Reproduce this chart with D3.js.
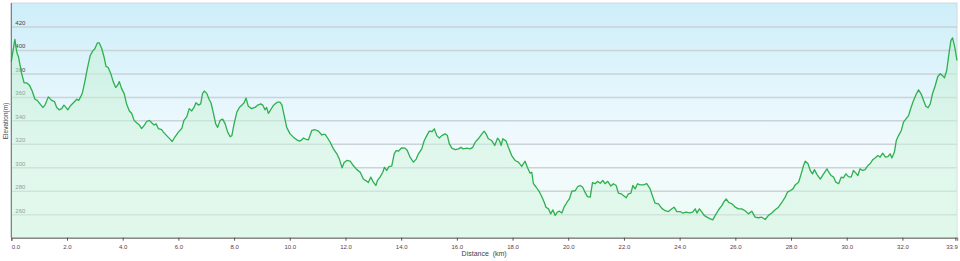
<!DOCTYPE html>
<html>
<head>
<meta charset="utf-8">
<script src="https://cdn.jsdelivr.net/npm/d3@7"></script>
<style>
  body { margin: 0; background: #fff; }
  svg { display: block; }
  .tick text { font-family: "Liberation Sans", Arial, sans-serif; }
</style>
</head>
<body>
<svg id="chart" width="960" height="261"></svg>
<script>
// distance along the track (km)
const distKm = [
  0.00, 0.10, 0.13, 0.17, 0.21, 0.26, 0.29, 0.37, 0.46, 0.55, 0.65, 0.75, 0.85, 0.93, 1.03, 1.13, 1.21, 1.33, 1.45, 1.55,
  1.63, 1.72, 1.81, 1.89, 1.96, 2.03, 2.11, 2.23, 2.35, 2.42, 2.49, 2.56, 2.65, 2.73, 2.83, 2.92, 3.00, 3.09, 3.16, 3.25,
  3.33, 3.40, 3.48, 3.57, 3.66, 3.75, 3.82, 3.88, 3.96, 4.05, 4.14, 4.24, 4.32, 4.41, 4.50, 4.60, 4.68, 4.78, 4.86, 4.96,
  5.04, 5.13, 5.20, 5.28, 5.40, 5.46, 5.58, 5.70, 5.78, 5.88, 6.00, 6.12, 6.20, 6.30, 6.39, 6.48, 6.56, 6.63, 6.72, 6.80,
  6.87, 6.93, 7.02, 7.10, 7.17, 7.26, 7.34, 7.41, 7.50, 7.59, 7.68, 7.77, 7.86, 7.92, 8.00, 8.10, 8.19, 8.28, 8.36, 8.43,
  8.51, 8.63, 8.75, 8.85, 8.96, 9.03, 9.11, 9.17, 9.23, 9.29, 9.39, 9.47, 9.55, 9.65, 9.72, 9.80, 9.89, 10.01, 10.13, 10.25,
  10.35, 10.43, 10.49, 10.59, 10.67, 10.79, 10.91, 11.03, 11.15, 11.20, 11.27, 11.33, 11.45, 11.57, 11.69, 11.78, 11.88, 11.95, 12.05, 12.17,
  12.28, 12.41, 12.53, 12.64, 12.77, 12.82, 12.91, 13.00, 13.09, 13.15, 13.24, 13.34, 13.40, 13.48, 13.57, 13.66, 13.75, 13.82, 13.90, 14.02,
  14.14, 14.22, 14.32, 14.44, 14.54, 14.62, 14.74, 14.83, 14.92, 15.01, 15.11, 15.19, 15.28, 15.37, 15.46, 15.58, 15.66, 15.73, 15.82, 15.94,
  16.06, 16.14, 16.23, 16.36, 16.48, 16.57, 16.66, 16.77, 16.90, 16.98, 17.05, 17.13, 17.25, 17.36, 17.46, 17.53, 17.59, 17.65, 17.77, 17.85,
  17.97, 18.09, 18.21, 18.33, 18.45, 18.53, 18.63, 18.69, 18.75, 18.85, 18.97, 19.06, 19.14, 19.20, 19.29, 19.37, 19.45, 19.53, 19.61, 19.68,
  19.77, 19.85, 19.95, 20.04, 20.13, 20.25, 20.34, 20.43, 20.52, 20.60, 20.69, 20.79, 20.87, 20.97, 21.05, 21.15, 21.24, 21.32, 21.42, 21.53,
  21.62, 21.72, 21.80, 21.90, 21.98, 22.08, 22.16, 22.25, 22.32, 22.40, 22.49, 22.58, 22.70, 22.82, 22.94, 23.04, 23.12, 23.24, 23.36, 23.48,
  23.60, 23.72, 23.80, 23.90, 24.02, 24.11, 24.23, 24.35, 24.47, 24.56, 24.62, 24.71, 24.80, 24.88, 24.98, 25.10, 25.19, 25.28, 25.40, 25.52,
  25.60, 25.67, 25.76, 25.88, 26.00, 26.11, 26.23, 26.35, 26.47, 26.59, 26.71, 26.83, 26.95, 27.07, 27.19, 27.31, 27.43, 27.55, 27.67, 27.79,
  27.87, 27.97, 28.07, 28.15, 28.27, 28.36, 28.45, 28.51, 28.61, 28.69, 28.77, 28.84, 28.93, 29.05, 29.17, 29.29, 29.35, 29.44, 29.53, 29.61,
  29.71, 29.80, 29.88, 29.97, 30.06, 30.16, 30.24, 30.33, 30.40, 30.48, 30.57, 30.66, 30.76, 30.84, 30.93, 31.02, 31.12, 31.20, 31.29, 31.39,
  31.48, 31.56, 31.62, 31.71, 31.78, 31.86, 31.96, 32.04, 32.13, 32.22, 32.31, 32.40, 32.49, 32.58, 32.67, 32.76, 32.84, 32.92, 33.00, 33.08,
  33.18, 33.27, 33.36, 33.43, 33.51, 33.59, 33.67, 33.74, 33.80, 33.88, 33.96
];

// elevation (m)
const elevM = [
  390, 405, 409, 402, 397, 394, 390, 380, 372, 372, 370, 365, 358, 357, 354, 351, 353, 360, 357, 356,
  351, 349, 350, 353, 351, 349, 352, 355, 358, 357, 360, 364, 374, 384, 395, 399, 401, 406, 406, 401,
  394, 386, 385, 380, 373, 368, 370, 373, 367, 363, 354, 348, 346, 340, 338, 336, 333, 336, 339, 340,
  338, 336, 337, 333, 332, 330, 327, 324, 322, 326, 330, 333, 340, 343, 350, 348, 351, 355, 353, 354,
  363, 365, 363, 358, 355, 346, 337, 334, 340, 341, 337, 330, 326, 327, 337, 347, 351, 353, 355, 359,
  352, 350, 351, 353, 354, 353, 349, 351, 346, 348, 352, 354, 355.5, 355.5, 353, 344, 334, 328.5, 325.7, 323.4,
  322.3, 323.4, 325, 323.7, 323.4, 331.4, 332, 330.8, 327.5, 328, 328, 326, 321.4, 315.7, 311.5, 307, 299.5, 304, 305.8, 305.2,
  301.5, 298, 295.8, 290, 288, 287, 291.6, 287.3, 284.5, 288.8, 291.6, 295.8, 300, 297.3, 300.7, 301, 311.5, 314.3, 313.7, 316.6,
  316.3, 314.3, 308.6, 304.4, 307, 311.5, 315.7, 322.8, 327, 330.8, 330.5, 332.8, 327, 325, 327, 328.5, 327, 320, 316.3, 315,
  315.7, 317, 315.7, 316.3, 315.7, 317, 321.4, 324.3, 328.5, 330.8, 328.5, 324.3, 322.8, 318.6, 324.8, 322.8, 318.6, 324.3, 322.3, 317,
  310, 305.8, 304.4, 300.7, 305.2, 300, 295, 295.8, 286, 283, 278.8, 274.5, 270, 266, 264.6, 260.3, 263.7, 259, 261.8, 262.6,
  261, 266, 270, 273, 279.7, 280, 283.6, 284.5, 283, 278.8, 275, 274.5, 287, 286, 288, 286.4, 288.8, 286, 288, 284,
  286, 284.5, 278, 277.4, 276, 274, 277.4, 278, 284.5, 281.6, 286, 285, 285, 286, 281.6, 274.5, 269.4, 268.8, 265, 263,
  262.3, 264.6, 266, 262.3, 262.3, 261, 261.8, 261.2, 261.8, 264.6, 261, 264.6, 261.8, 259, 257.5, 256, 255.2, 259, 263.8, 267.5,
  271, 273, 270, 268.8, 266, 264.6, 264.6, 263, 260.3, 262.6, 257.5, 257, 257.5, 255.5, 259, 261, 263.8, 266, 270, 274.5,
  278.8, 280, 281.6, 285, 287.3, 294, 301.5, 305.2, 303, 297.3, 294.4, 298, 294, 290, 294.4, 298.7, 296, 293, 291.6, 287.3,
  286, 291.6, 291, 294.4, 292, 291.6, 297.3, 295, 293, 298.7, 297.3, 298, 301.5, 303, 306.4, 308, 310, 308.6, 312, 308.6,
  309, 311.5, 308, 312.8, 322.8, 327, 331.4, 338.5, 341.3, 344, 351, 357, 362, 366, 362.6, 357, 352, 350.7, 354, 362.6,
  369.7, 377.4, 379.7, 378.3, 376.3, 382.5, 396.7, 408, 410.3, 402.4, 391
];

const yTicks = [260, 280, 300, 320, 340, 360, 380, 400, 420];
const xTicks = [0, 2, 4, 6, 8, 10, 12, 14, 16, 18, 20, 22, 24, 26, 28, 30, 32, 33.9];
const xTitle = "Distance  (km)";
const yTitle = "Elevation(m)";

const data = distKm.map((d, i) => ({ d: d, e: elevM[i] }));

let svg = d3.select('#chart');
let margin = {top: 3, right: 3, bottom: 23.3, left: 11.3},
    width = +svg.attr('width') - margin.left - margin.right,
    height = +svg.attr('height') - margin.top - margin.bottom;

let defs = svg.append("defs");
let bg = defs.append("linearGradient").attr("id", "bg")
    .attr("x1", 0).attr("y1", 0).attr("x2", 0).attr("y2", 1);
bg.append("stop").attr("offset", "0%").attr("stop-color", "#cdeef9");
bg.append("stop").attr("offset", "65%").attr("stop-color", "#f4fbfe");
bg.append("stop").attr("offset", "100%").attr("stop-color", "#eafaf2");

let af = defs.append("linearGradient").attr("id", "areafill")
    .attr("x1", 0).attr("y1", 0).attr("x2", 0).attr("y2", 1);
af.append("stop").attr("offset", "0%").attr("stop-color", "#c4f0d4").attr("stop-opacity", 0.55);
af.append("stop").attr("offset", "100%").attr("stop-color", "#d6f6e2").attr("stop-opacity", 0.5);

let g = svg.append("g")
    .attr('transform', 'translate(' + margin.left + ',' + margin.top + ')');

let x = d3.scaleLinear().domain([0, d3.max(distKm)]).range([0, width]);
let y = d3.scaleLinear().domain([240, 440]).range([height, 0]);

g.append("rect")
    .attr("width", width).attr("height", height)
    .attr("fill", "url(#bg)")
    .attr("stroke", "#d4d8da").attr("stroke-width", 1);

// grid lines with labels sitting just above them, inside the plot
let yAxis = d3.axisLeft(y).tickValues(yTicks).tickSize(-width).tickFormat(d3.format("d"));
g.append("g")
    .call(yAxis)
    .call(function(ax) {
        ax.select(".domain").remove();
        ax.selectAll(".tick line").attr("stroke", "#c9d3d8").attr("stroke-width", 1.5);
        ax.selectAll(".tick text")
            .attr("x", 4).attr("dy", -2).attr("text-anchor", "start")
            .attr("fill", "#444").style("font-size", "6px");
    });

let area = d3.area()
    .x(function(d) { return x(d.d); })
    .y0(height)
    .y1(function(d) { return y(d.e); });

let line = d3.line()
    .x(function(d) { return x(d.d); })
    .y(function(d) { return y(d.e); });

g.append("path").datum(data).attr("d", area).attr("fill", "url(#areafill)");
g.append("path").datum(data).attr("d", line)
    .attr("fill", "none").attr("stroke", "#2db04e").attr("stroke-width", 1.3)
    .attr("stroke-linejoin", "round");

// left axis line
g.append("line").attr("x1", 0).attr("x2", 0).attr("y1", 0).attr("y2", height)
    .attr("stroke", "#6b6b6b").attr("stroke-width", 1);

let xAxis = d3.axisBottom(x).tickValues(xTicks).tickSize(3).tickPadding(4)
    .tickFormat(function(d) { return d.toFixed(1); });
g.append("g")
    .attr("transform", "translate(0," + height + ")")
    .call(xAxis)
    .call(function(ax) {
        ax.select(".domain").attr("stroke", "#8a8a8a").attr("stroke-width", 1.5);
        ax.selectAll(".tick line").attr("stroke", "#6a4a4a");
        ax.selectAll(".tick text").attr("fill", "#5a3c48").style("font-size", "6px");
        ax.selectAll(".tick text").filter(function(d, i) { return i === 0; })
            .attr("text-anchor", "start").attr("x", 0);
        ax.selectAll(".tick text").filter(function(d, i) { return i === xTicks.length - 1; })
            .attr("text-anchor", "end").attr("x", 2);
    });

svg.append("text")
    .attr("x", margin.left + width / 2).attr("y", 256)
    .attr("text-anchor", "middle")
    .attr("fill", "#444")
    .style("font-family", "Liberation Sans, Arial, sans-serif")
    .style("font-size", "7px")
    .style("white-space", "pre")
    .text(xTitle);

svg.append("text")
    .attr("transform", "translate(8," + (margin.top + 118) + ") rotate(-90)")
    .attr("text-anchor", "middle")
    .attr("fill", "#444")
    .style("font-family", "Liberation Sans, Arial, sans-serif")
    .style("font-size", "6.5px")
    .text(yTitle);
</script>
</body>
</html>
